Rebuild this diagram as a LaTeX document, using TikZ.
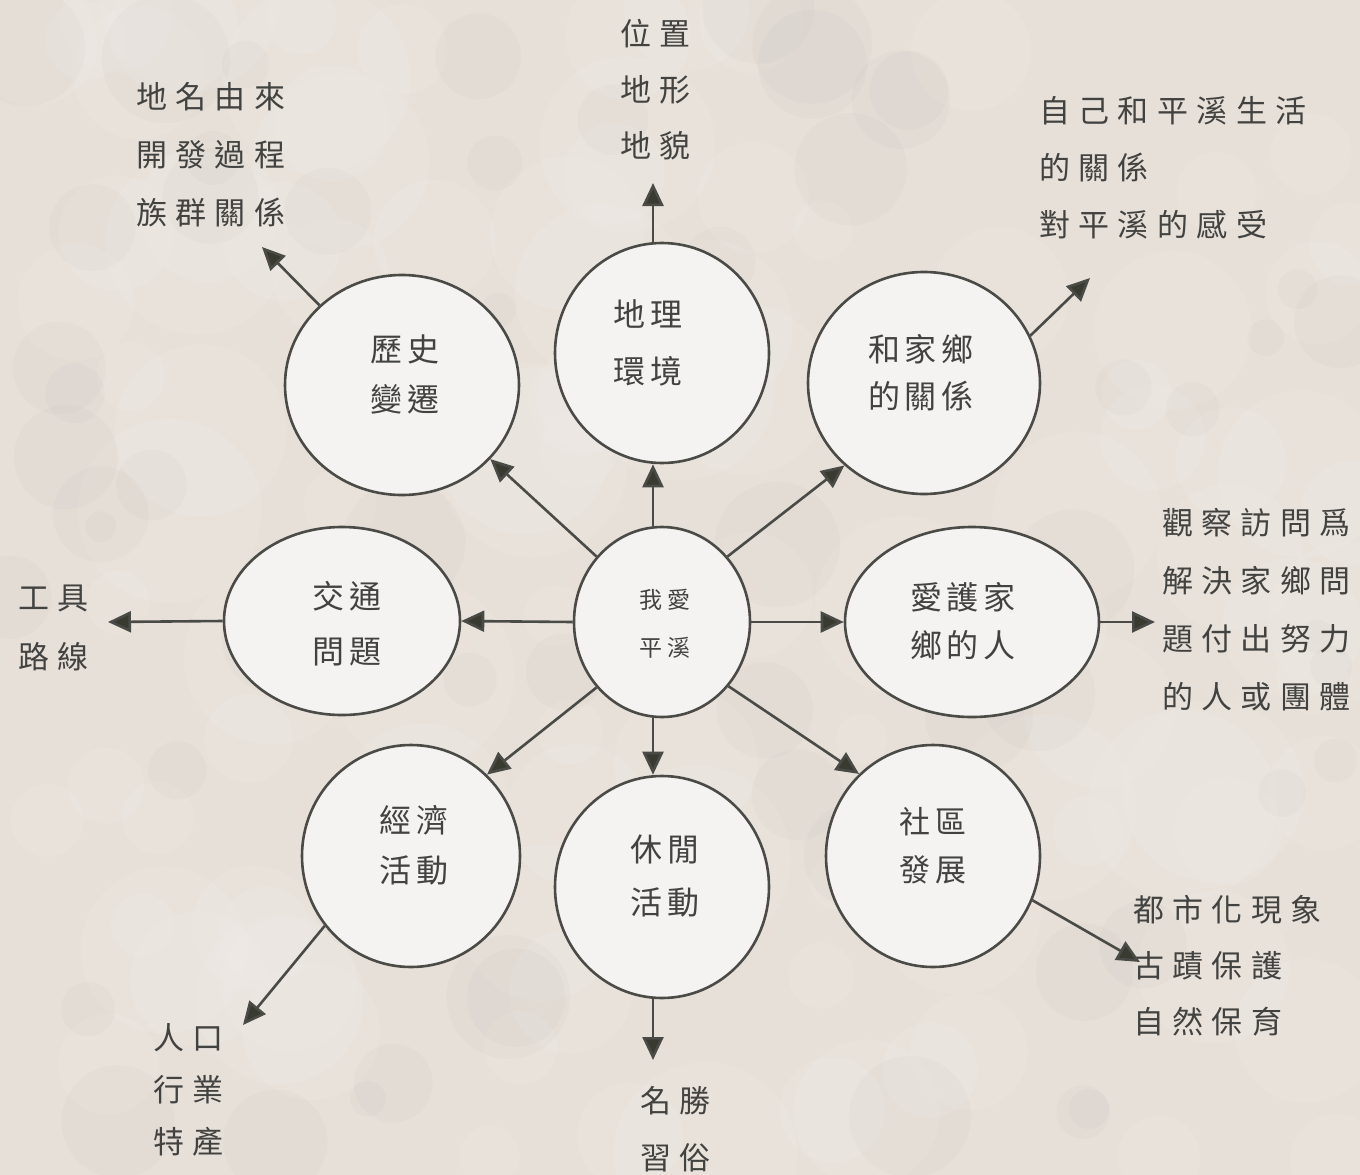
\documentclass[tikz,border=0pt]{standalone}
\usepackage{fontspec}
\usetikzlibrary{shapes.geometric,arrows.meta}
\newfontfamily\cjkout{Noto Sans CJK TC}[LetterSpace=27]
\newfontfamily\cjkin{Noto Sans CJK TC}[LetterSpace=14]
\newfontfamily\cjkmid{Noto Sans CJK TC}[LetterSpace=26]
\definecolor{bg}{HTML}{E7E0D9}
\definecolor{ink}{HTML}{4A4A46}
\definecolor{tipc}{HTML}{3A3B30}
\definecolor{fillc}{HTML}{F4F3F1}
\definecolor{txt}{HTML}{424240}
\begin{document}
\begin{tikzpicture}[x=1pt,y=-1pt,
  bubble/.style={ellipse, draw=ink, line width=2.6pt, fill=fillc, inner sep=0pt},
  arr/.style={draw=ink, line width=2.6pt, -{Triangle[length=23pt,width=21pt,fill=tipc]}},
  ctext/.style={align=center, text=txt, inner sep=0pt},
  otext/.style={align=left, anchor=west, text=txt, inner sep=0pt},
]
\useasboundingbox (0,0) rectangle (1360,1175);
\fill[bg] (0,0) rectangle (1360,1175);
% faint mottled texture
\pgfmathsetseed{42}
\foreach \i in {1,...,110}{
  \pgfmathsetmacro\xx{rnd*1360}
  \pgfmathsetmacro\yy{rnd*1175}
  \pgfmathsetmacro\rr{25+rnd*70}
  \fill[white, opacity=0.07] (\xx,\yy) circle (\rr pt);
}
\foreach \i in {1,...,70}{
  \pgfmathsetmacro\xx{rnd*1360}
  \pgfmathsetmacro\yy{rnd*1175}
  \pgfmathsetmacro\rr{15+rnd*50}
  \fill[gray, opacity=0.035] (\xx,\yy) circle (\rr pt);
}

% ellipses
\node[bubble, minimum width=176pt, minimum height=190pt] (C) at (662,622) {};
\node[bubble, minimum width=214pt, minimum height=220pt] (GEO) at (662,353) {};
\node[bubble, minimum width=234pt, minimum height=220pt] (HIST) at (402,385) {};
\node[bubble, minimum width=232pt, minimum height=222pt] (HOME) at (924,383) {};
\node[bubble, minimum width=236pt, minimum height=188pt] (TRAF) at (342,621) {};
\node[bubble, minimum width=254pt, minimum height=190pt] (LOVE) at (972,622) {};
\node[bubble, minimum width=218pt, minimum height=222pt] (ECON) at (411,856) {};
\node[bubble, minimum width=214pt, minimum height=222pt] (LEIS) at (662,887) {};
\node[bubble, minimum width=214pt, minimum height=222pt] (COMM) at (933,856) {};

% texts in ellipses
\node[ctext, font=\cjkmid\fontsize{23}{48}\selectfont] (tC) at (665,624) {我愛\\平溪};
\node[ctext, font=\cjkin\fontsize{32}{57}\selectfont] (tGEO) at (648,343) {地理\\環境};
\node[ctext, font=\cjkin\fontsize{32}{50}\selectfont] (tHIST) at (405,374) {歷史\\變遷};
\node[ctext, font=\cjkin\fontsize{32}{47}\selectfont] (tHOME) at (921,373) {和家鄉\\的關係};
\node[ctext, font=\cjkin\fontsize{32}{55}\selectfont] (tTRAF) at (347,624) {交通\\問題};
\node[ctext, font=\cjkin\fontsize{32}{48}\selectfont] (tLOVE) at (963,621) {愛護家\\鄉的人};
\node[ctext, font=\cjkin\fontsize{32}{50}\selectfont] (tECON) at (414,845) {經濟\\活動};
\node[ctext, font=\cjkin\fontsize{32}{53}\selectfont] (tLEIS) at (665,876) {休閒\\活動};
\node[ctext, font=\cjkin\fontsize{31}{48}\selectfont] (tCOMM) at (933,846) {社區\\發展};

% outer texts
\node[otext, font=\cjkout\fontsize{31}{58}\selectfont] (oTL) at (136,155) {地名由來\\開發過程\\族群關係};
\node[otext, font=\cjkout\fontsize{31}{56}\selectfont] (oT) at (620,90) {位置\\地形\\地貌};
\node[otext, font=\cjkout\fontsize{31}{57}\selectfont] (oTR) at (1039,168) {自己和平溪生活\\的關係\\對平溪的感受};
\node[otext, font=\cjkout\fontsize{31}{58}\selectfont] (oR) at (1162,610) {觀察訪問爲\\解決家鄉問\\題付出努力\\的人或團體};
\node[otext, font=\cjkout\fontsize{31}{59}\selectfont] (oL) at (18,628) {工具\\路線};
\node[otext, font=\cjkout\fontsize{31}{52}\selectfont] (oBL) at (153,1090) {人口\\行業\\特產};
\node[otext, font=\cjkout\fontsize{31}{57}\selectfont] (oB) at (640,1129) {名勝\\習俗};
\node[otext, font=\cjkout\fontsize{31}{56}\selectfont] (oBR) at (1133,966) {都市化現象\\古蹟保護\\自然保育};

% free ends of outer arrows
\coordinate (eHIST) at (262,247);
\coordinate (eGEO) at (653,183);
\coordinate (eHOME) at (1090,278);
\coordinate (eTRAF) at (108,622);
\coordinate (eLOVE) at (1155,622);
\coordinate (eECON) at (243,1025);
\coordinate (eLEIS) at (653,1060);
\coordinate (eCOMM) at (1140,962);

% arrows from the centre
\draw[arr] ([xshift=-9pt]C.north) -- ([xshift=-9pt]GEO.south);
\draw[arr] (C.135) -- (HIST.-40);
\draw[arr] (C.45) -- (HOME.226);
\draw[arr] (C.180) -- (TRAF.0);
\draw[arr] (C.0) -- (LOVE.180);
\draw[arr] (C.225) -- (ECON.47);
\draw[arr] ([xshift=-9pt]C.south) -- ([xshift=-9pt]LEIS.north);
\draw[arr] (C.316) -- (COMM.132);

% outward arrows
\draw[arr] (HIST.136) -- (eHIST);
\draw[arr] ([xshift=-9pt]GEO.north) -- (eGEO);
\draw[arr] (HOME.24) -- (eHOME);
\draw[arr] (TRAF.180) -- (eTRAF);
\draw[arr] (LOVE.0) -- (eLOVE);
\draw[arr] (ECON.219) -- (eECON);
\draw[arr] ([xshift=-9pt]LEIS.south) -- (eLEIS);
\draw[arr] (COMM.336) -- (eCOMM);
\end{tikzpicture}
\end{document}
